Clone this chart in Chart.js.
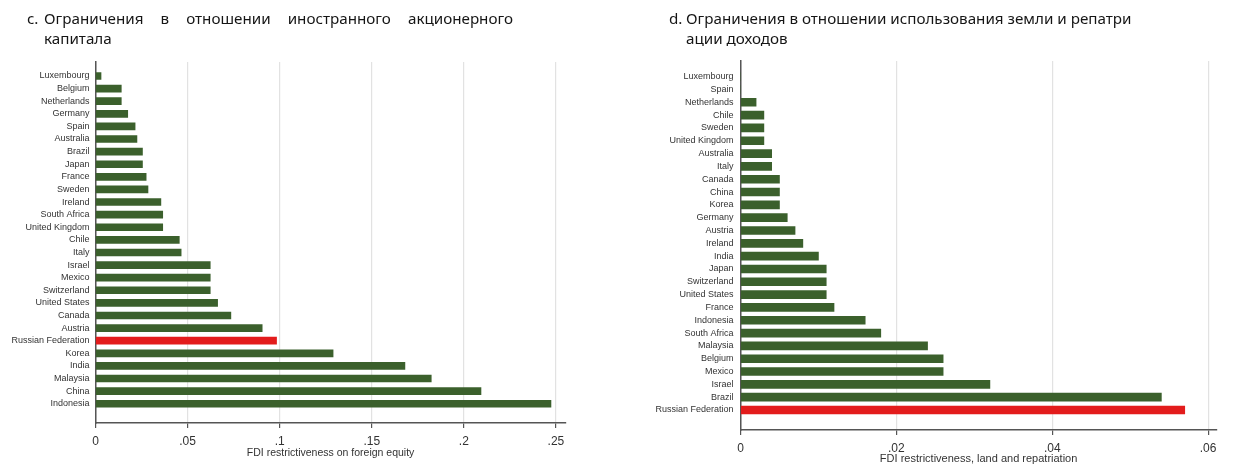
<!DOCTYPE html>
<html>
<head>
<meta charset="UTF-8">
<title>FDI restrictiveness</title>
<script src="https://cdn.jsdelivr.net/npm/chart.js"></script>
<style>
body{margin:0; background:#fff; width:1237px; height:475px; position:relative; overflow:hidden;}
.box{position:absolute; top:0; height:475px;}
.ttl{position:absolute; font-family:"Noto Sans"; font-size:15.2px; line-height:20px; color:#151515; z-index:2; white-space:nowrap;}
.just{white-space:normal; text-align:justify; text-align-last:justify;}
</style>
</head>
<body>
<div class="ttl" style="left:27px; top:8px;">c.</div>
<div class="ttl just" style="left:44px; top:8px; width:469px;">Ограничения в отношении иностранного акционерного</div>
<div class="ttl" style="left:44px; top:28px;">капитала</div>

<div class="ttl" style="left:669px; top:8px;">d.</div>
<div class="ttl" style="left:686px; top:8px;">Ограничения в отношении использования земли и репатри</div>
<div class="ttl" style="left:686px; top:28px;">ации доходов</div>

<div class="box" style="left:0; width:610px;"><canvas id="chartEquity"></canvas></div>
<div class="box" style="left:620px; width:617px;"><canvas id="chartLand"></canvas></div>

<script>
// c. foreign equity
const equityCountries = ['Luxembourg','Belgium','Netherlands','Germany','Spain','Australia','Brazil','Japan','France','Sweden',
  'Ireland','South Africa','United Kingdom','Chile','Italy','Israel','Mexico','Switzerland','United States','Canada',
  'Austria','Russian Federation','Korea','India','Malaysia','China','Indonesia'];
const equityValues = [0.003,0.014,0.014,0.0175,0.0215,0.0225,0.0255,0.0255,0.0275,0.0285,
  0.0355,0.0365,0.0365,0.0455,0.0465,0.0623,0.0623,0.0623,0.0663,0.0735,
  0.0905,0.0983,0.129,0.168,0.1823,0.2093,0.2473];
const equityTicks = [0, 0.05, 0.1, 0.15, 0.2, 0.25];
const equityTickLabels = ['0', '.05', '.1', '.15', '.2', '.25'];

// d. land and repatriation
const landCountries = ['Luxembourg','Spain','Netherlands','Chile','Sweden','United Kingdom','Australia','Italy','Canada','China',
  'Korea','Germany','Austria','Ireland','India','Japan','Switzerland','United States','France','Indonesia',
  'South Africa','Malaysia','Belgium','Mexico','Israel','Brazil','Russian Federation'];
const landValues = [0,0,0.002,0.003,0.003,0.003,0.004,0.004,0.005,0.005,
  0.005,0.006,0.007,0.008,0.010,0.011,0.011,0.011,0.012,0.016,
  0.018,0.024,0.026,0.026,0.032,0.054,0.057];
const landTicks = [0, 0.02, 0.04, 0.06];
const landTickLabels = ['0', '.02', '.04', '.06'];

const GREEN = '#3b602c';
const RED = '#e31c1c';

function makeChart(id, countries, values, ticks, tickLabels, g) {
  new Chart(document.getElementById(id), {
    type: 'bar',
    data: {
      datasets: [{
        data: values.map((v, i) => ({x: v, y: i})),
        backgroundColor: countries.map(c => c === 'Russian Federation' ? RED : GREEN),
        barThickness: g.bar
      }]
    },
    options: {
      indexAxis: 'y',
      responsive: true,
      maintainAspectRatio: false,
      animation: false,
      layout: {padding: {top: g.top, right: g.right, bottom: g.bottom, left: 0}},
      plugins: {legend: {display: false}, tooltip: {enabled: false}},
      scales: {
        x: {
          type: 'linear', min: 0, max: g.xMax,
          afterBuildTicks: s => { s.ticks = ticks.map(v => ({value: v})); },
          afterFit: s => { s.height = 40; },
          ticks: {autoSkip: false, maxRotation: 0, padding: 6, color: '#333',
            font: {family: 'Liberation Sans', size: 12},
            callback: (v, i) => tickLabels[i]},
          grid: {color: '#e2e2e2', lineWidth: 1.2, tickColor: '#555', tickLength: 5},
          border: {color: '#555', width: 1.5},
          title: {display: true, text: g.title, color: '#333',
            font: {family: 'Liberation Sans', size: g.titleSize},
            padding: {top: 0, bottom: g.titlePad}}
        },
        y: {
          type: 'linear', reverse: true, offset: false, min: g.yMin, max: g.yMax,
          afterBuildTicks: s => { s.ticks = countries.map((c, i) => ({value: i})); },
          afterFit: s => { s.width = g.yw; },
          ticks: {autoSkip: false, padding: g.labelPad, color: '#333',
            font: {family: 'Liberation Sans', size: 9},
            callback: (v, i) => countries[i]},
          grid: {display: false, drawTicks: false},
          border: {color: '#555', width: 1.5}
        }
      }
    }
  });
}

makeChart('chartEquity', equityCountries, equityValues, equityTicks, equityTickLabels, {
  top: 62, right: 44.3, bottom: 12, yw: 95.5, xMax: 0.2553, yMin: -1.11, yMax: 27.53,
  bar: 7, labelPad: 6, title: 'FDI restrictiveness on foreign equity', titleSize: 10.5, titlePad: 4
});
makeChart('chartLand', landCountries, landValues, landTicks, landTickLabels, {
  top: 61, right: 20.3, bottom: 5, yw: 120.5, xMax: 0.0611, yMin: -1.22, yMax: 27.56,
  bar: 8, labelPad: 7, title: 'FDI restrictiveness, land and repatriation', titleSize: 11, titlePad: 4.4
});
</script>
</body>
</html>
